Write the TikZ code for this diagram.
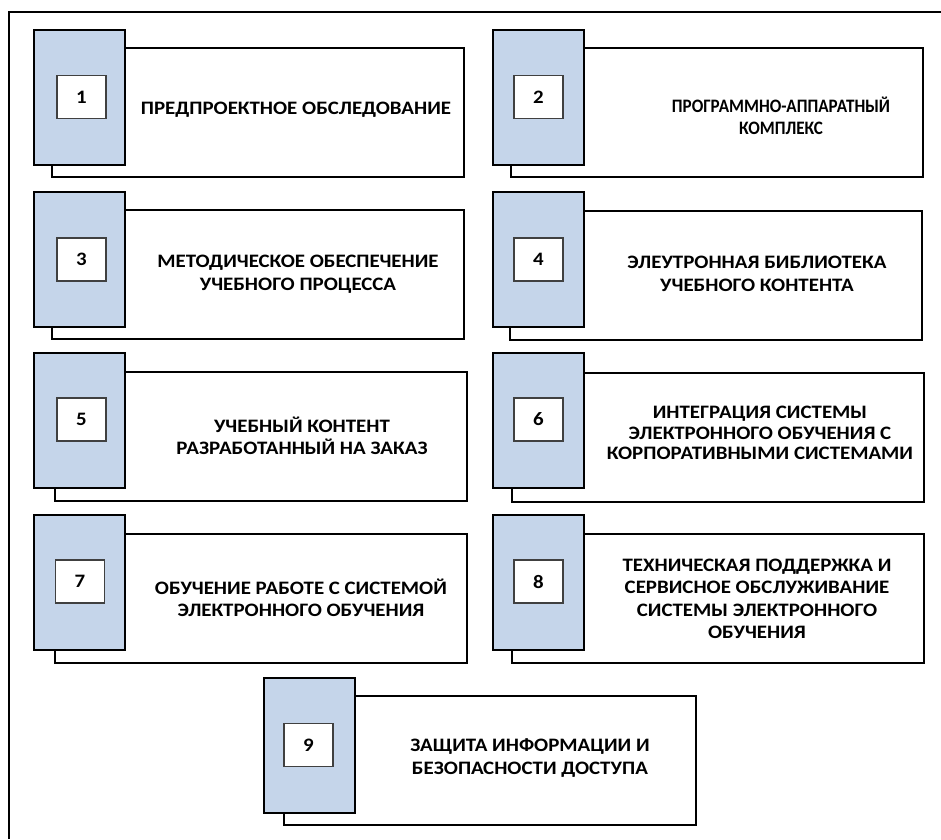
\documentclass[tikz,border=0pt]{standalone}
\usepackage{fontspec}
\setmainfont{Carlito}[FakeStretch=1.1]
\newfontfamily\narrowfont{Carlito Bold}[FakeStretch=0.9]
\usepackage{color}
\definecolor{tabblue}{RGB}{197,213,234}
\definecolor{numgray}{RGB}{64,64,64}

\begin{document}
\begin{tikzpicture}[%
      x=1pt, y=-1pt,
      card/.style={draw=black, fill=white, line width=2pt, inner sep=0pt,
        minimum width=412pt, minimum height=129pt},
      tab/.style={draw=black, fill=tabblue, line width=2pt, inner sep=0pt,
        minimum width=91pt, minimum height=135pt},
      num/.style={draw=numgray, fill=white, line width=1.2pt, inner sep=0pt,
        minimum width=49pt, minimum height=43pt, font=\fontsize{19}{22}\selectfont\bfseries},
      label/.style={align=center, inner sep=0pt,
        font=\fontsize{19}{22.5}\selectfont\bfseries},
      ]
      \useasboundingbox (0,0) rectangle (941,839);
      \draw [line width=1.5pt] (9,839) -- (9,12) -- (941,12);

      % 1
      \node [card] (c1) at (257.5,112) {};
      \node [tab] (t1) at (79.5,97.5) {};
      \node [num] (n1) at (81.5,97) {1};
      \node [label] (l1) at (296,110) {ПРЕДПРОЕКТНОЕ ОБСЛЕДОВАНИЕ};

      % 2
      \node [card] (c2) at (716.5,112) {};
      \node [tab] (t2) at (538,97.5) {};
      \node [num] (n2) at (538.5,97) {2};
      \node [label, font=\narrowfont\fontsize{19}{22}\selectfont] (l2) at (781,116)
        {ПРОГРАММНО-АППАРАТНЫЙ\\КОМПЛЕКС};

      % 3
      \node [card] (c3) at (257.5,274.5) {};
      \node [tab] (t3) at (79.5,259.5) {};
      \node [num] (n3) at (81.5,259.5) {3};
      \node [label] (l3) at (298,274) {МЕТОДИЧЕСКОЕ ОБЕСПЕЧЕНИЕ\\УЧЕБНОГО ПРОЦЕССА};

      % 4
      \node [card] (c4) at (715.5,275) {};
      \node [tab] (t4) at (538,259.5) {};
      \node [num] (n4) at (538.5,259.5) {4};
      \node [label] (l4) at (757,274) {ЭЛЕУТРОННАЯ БИБЛИОТЕКА\\УЧЕБНОГО КОНТЕНТА};

      % 5
      \node [card] (c5) at (261,436) {};
      \node [tab] (t5) at (79.5,420.5) {};
      \node [num] (n5) at (81.5,419.5) {5};
      \node [label] (l5) at (302,436) {УЧЕБНЫЙ КОНТЕНТ\\РАЗРАБОТАННЫЙ НА ЗАКАЗ};

      % 6
      \node [card] (c6) at (718,437) {};
      \node [tab] (t6) at (538,420.5) {};
      \node [num] (n6) at (538.5,419.5) {6};
      \node [label, font=\fontsize{19}{20.5}\selectfont\bfseries] (l6) at (760,433)
        {ИНТЕГРАЦИЯ СИСТЕМЫ\\ЭЛЕКТРОННОГО ОБУЧЕНИЯ С\\КОРПОРАТИВНЫМИ СИСТЕМАМИ};

      % 7
      \node [card] (c7) at (261,598) {};
      \node [tab] (t7) at (79.5,582.5) {};
      \node [num] (n7) at (80,581.5) {7};
      \node [label] (l7) at (301,598) {ОБУЧЕНИЕ РАБОТЕ С СИСТЕМОЙ\\ЭЛЕКТРОННОГО ОБУЧЕНИЯ};

      % 8
      \node [card] (c8) at (718,598) {};
      \node [tab] (t8) at (538,582.5) {};
      \node [num] (n8) at (538.5,581.5) {8};
      \node [label] (l8) at (757,599) {ТЕХНИЧЕСКАЯ ПОДДЕРЖКА И\\СЕРВИСНОЕ ОБСЛУЖИВАНИЕ\\СИСТЕМЫ ЭЛЕКТРОННОГО\\ОБУЧЕНИЯ};

      % 9
      \node [card] (c9) at (489.5,760) {};
      \node [tab] (t9) at (309,745) {};
      \node [num] (n9) at (308.5,745) {9};
      \node [label] (l9) at (530,758) {ЗАЩИТА ИНФОРМАЦИИ И\\БЕЗОПАСНОСТИ ДОСТУПА};
\end{tikzpicture}
\end{document}
